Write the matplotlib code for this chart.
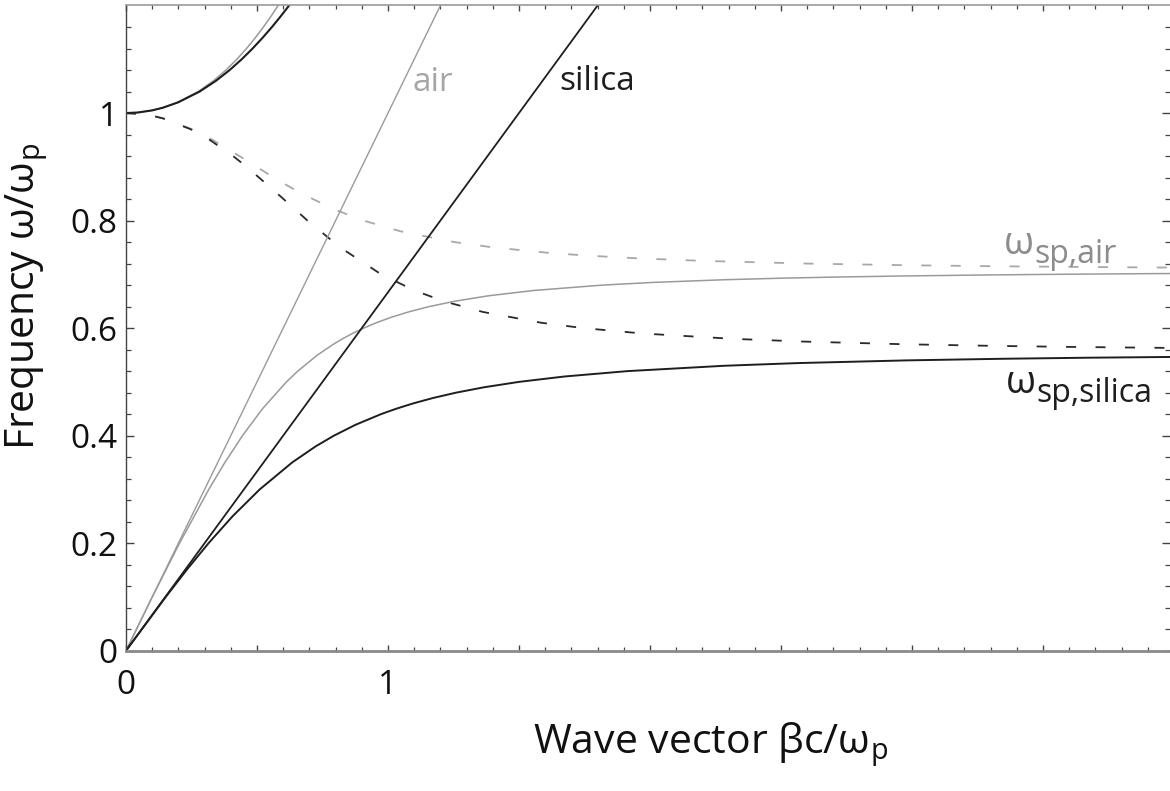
import matplotlib
matplotlib.use("Agg")
import matplotlib.pyplot as plt
from matplotlib import rcParams

rcParams['font.family'] = ['Open Sans', 'DejaVu Sans']
rcParams['mathtext.fontset'] = 'custom'
rcParams['mathtext.rm'] = 'Open Sans'
rcParams['mathtext.it'] = 'Open Sans'
rcParams['lines.scale_dashes'] = False

# light lines omega = beta c / n
light_air_beta = [0, 1.3]
light_air_omega = [0, 1.3]
light_silica_beta = [0, 1.95]
light_silica_omega = [0, 1.3]

# bound surface plasmon branch, air
spp_air_omega = [0, 0.1, 0.2, 0.3, 0.35, 0.4, 0.45, 0.5, 0.52, 0.55, 0.57, 0.58, 0.59, 0.6,
                 0.61, 0.62, 0.63, 0.64, 0.65, 0.66, 0.67, 0.68, 0.685, 0.69, 0.693, 0.695,
                 0.697, 0.699, 0.700, 0.701, 0.7015, 0.7018]
spp_air_beta = [0, 0.1005, 0.2043, 0.3160, 0.3773, 0.4446, 0.5210, 0.6124, 0.6555, 0.7309,
                0.7914, 0.8260, 0.8643, 0.9071, 0.9557, 1.0117, 1.0774, 1.1565, 1.2547,
                1.3816, 1.5559, 1.8182, 2.0116, 2.2843, 2.5138, 2.7121, 2.9667, 3.3106,
                3.5349, 3.8121, 3.9773, 4.0883]

# bound surface plasmon branch, silica
spp_silica_omega = [0, 0.1, 0.15, 0.2, 0.25, 0.3, 0.35, 0.38, 0.4, 0.42, 0.44, 0.45, 0.46,
                    0.47, 0.48, 0.49, 0.5, 0.51, 0.52, 0.53, 0.535, 0.54, 0.543, 0.545, 0.547]
spp_silica_beta = [0, 0.1517, 0.2311, 0.3151, 0.4067, 0.5104, 0.6339, 0.7237, 0.7937, 0.8753,
                   0.9733, 1.0310, 1.0963, 1.1717, 1.2602, 1.3670, 1.5, 1.6732, 1.9138,
                   2.2846, 2.5668, 2.9811, 3.3477, 3.6812, 4.1367]

# quasi-bound (dashed) branch, air
qb_air_omega = [1, 0.998, 0.995, 0.99, 0.97, 0.95, 0.92, 0.9, 0.87, 0.85, 0.82, 0.8, 0.78,
                0.76, 0.75, 0.74, 0.735, 0.73, 0.725, 0.72, 0.717, 0.715, 0.713, 0.7125]
qb_air_beta = [0, 0.0633, 0.1004, 0.1425, 0.2511, 0.3306, 0.4332, 0.4982, 0.5984, 0.6712,
               0.7993, 0.9071, 1.0483, 1.2538, 1.4031, 1.6131, 1.7571, 1.9450, 2.2057,
               2.6047, 2.9774, 3.3362, 3.8642, 4.0402]

# quasi-bound (dashed) branch, silica
qb_silica_omega = [1, 0.998, 0.995, 0.99, 0.97, 0.95, 0.92, 0.9, 0.85, 0.8, 0.75, 0.7, 0.67,
                   0.65, 0.63, 0.61, 0.6, 0.59, 0.58, 0.575, 0.57, 0.567, 0.565, 0.563]
qb_silica_beta = [0, 0.0633, 0.1001, 0.1417, 0.2466, 0.3200, 0.4088, 0.4606, 0.5785, 0.6928,
                  0.8177, 0.9742, 1.1013, 1.2130, 1.3630, 1.5847, 1.7463, 1.9718, 2.3202,
                  2.5848, 2.9706, 3.3084, 3.6119, 4.0196]

# radiative branch above omega_p
up_omega = [1, 1.001, 1.005, 1.01, 1.02, 1.04, 1.06, 1.08, 1.1, 1.12, 1.14, 1.16, 1.18, 1.2, 1.22]
up_air_beta = [0, 0.0447, 0.0996, 0.1404, 0.1972, 0.2755, 0.3337, 0.3816, 0.4230, 0.4599,
               0.4934, 0.5244, 0.5533, 0.5805, 0.6064]
up_silica_beta = [0, 0.0447, 0.0999, 0.1412, 0.1993, 0.2810, 0.3433, 0.3956, 0.4415, 0.4831,
                  0.5213, 0.5570, 0.5905, 0.6224, 0.6529]

gray = '#9a9a9a'
dark = '#1e1e1e'

fig = plt.figure(figsize=(11.7, 7.91), dpi=100)
ax = fig.add_axes([126 / 1170, 140.3 / 791, 1044 / 1170, 645.7 / 791])

dash = (0, (7.2, 14.0))
ax.plot(qb_air_beta, qb_air_omega, color='#a8a8a8', lw=1.3, linestyle=dash)
ax.plot(qb_silica_beta, qb_silica_omega, color='#2a2a2a', lw=1.3, linestyle=dash)
ax.plot(light_air_beta, light_air_omega, color=gray, lw=1.0)
ax.plot(spp_air_beta, spp_air_omega, color=gray, lw=1.1)
ax.plot(up_air_beta, up_omega, color=gray, lw=1.1)
ax.plot(light_silica_beta, light_silica_omega, color=dark, lw=1.3)
ax.plot(spp_silica_beta, spp_silica_omega, color=dark, lw=1.4)
ax.plot(up_silica_beta, up_omega, color=dark, lw=1.5)

ax.set_xlim(0, 3.985)
ax.set_ylim(0, 1.201)

ax.text(1.172, 1.056, 'air', color='#a6a6a6', fontsize=24, ha='center', va='center')
ax.text(1.798, 1.058, 'silica', color=dark, fontsize=24, ha='center', va='center')

# omega_sp labels: symbol plus a subscript placed just below its baseline
ax.text(3.352, 0.738, 'ω', color='#8c8c8c', fontsize=28, ha='left', va='baseline')
ax.text(3.468, 0.722, 'sp,air', color='#8c8c8c', fontsize=23, ha='left', va='baseline')
ax.text(3.360, 0.480, 'ω', color=dark, fontsize=28, ha='left', va='baseline')
ax.text(3.476, 0.462, 'sp,silica', color=dark, fontsize=23, ha='left', va='baseline')

# frame and ticks
xmajor = [0, 0.5, 1, 1.5, 2, 2.5, 3, 3.5]
xlabels = ['0', '', '1', '', '', '', '', '']
xminor = [i / 10 for i in range(40) if i % 5 != 0]
ymajor = [0, 0.2, 0.4, 0.6, 0.8, 1.0]
ylabels = ['0', '0.2', '0.4', '0.6', '0.8', '1']
yminor = [i / 25 for i in range(31) if i % 5 != 0]

ax.set_xticks(xmajor)
ax.set_xticklabels(xlabels)
ax.set_xticks(xminor, minor=True)
ax.set_yticks(ymajor)
ax.set_yticklabels(ylabels)
ax.set_yticks(yminor, minor=True)

ax.tick_params(axis='both', which='both', direction='in', top=True, right=True,
               color='#444444', labelsize=24, labelcolor='#111111')
ax.tick_params(axis='y', which='major', length=5.5, width=1.0, pad=6)
ax.tick_params(axis='y', which='minor', length=3.6, width=0.9)
ax.tick_params(axis='x', which='major', length=4.5, width=1.0, pad=13)
ax.tick_params(axis='x', which='minor', length=2.8, width=0.9)

ax.spines['left'].set_color('#444444')
ax.spines['left'].set_linewidth(1.0)
ax.spines['bottom'].set_color('#8a8a8a')
ax.spines['bottom'].set_linewidth(2.0)
ax.spines['top'].set_color('#9a9a9a')
ax.spines['top'].set_linewidth(1.2)
ax.spines['right'].set_visible(False)

fig.text(711 / 1170, 1 - 745 / 791, r'Wave vector $\mathrm{\beta c/\omega_p}$',
         fontsize=29.5, ha='center', va='center', color='#111111')
fig.text(27 / 1170, 1 - 296 / 791, r'Frequency $\mathrm{\omega/\omega_p}$',
         fontsize=29.5, ha='center', va='center', rotation=90, color='#111111')

fig.savefig('out.png', dpi=100)
